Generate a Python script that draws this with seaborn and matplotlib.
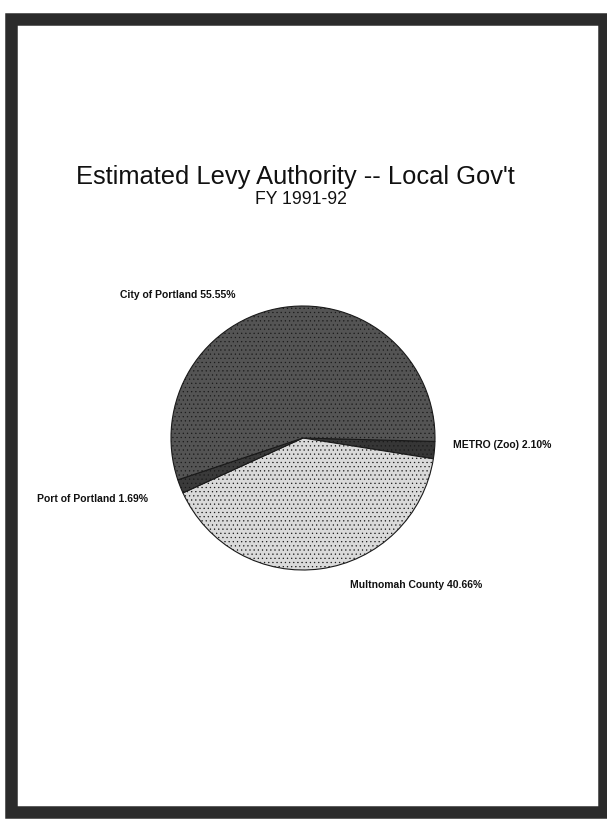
import matplotlib
matplotlib.use("Agg")
import matplotlib.pyplot as plt
import seaborn as sns
from matplotlib.patches import Rectangle

# ---- data ----
categories = ["METRO (Zoo)", "Multnomah County", "Port of Portland", "City of Portland"]
shares = [2.10, 40.66, 1.69, 55.55]
title = "Estimated Levy Authority -- Local Gov't"
subtitle = "FY 1991-92"

# ---- style ----
colors = ["#363636", "#dadada", "#3a3a3a", "#545454"]
label_pos = [(1.136, -0.053, "left"), (0.356, -1.114, "left"),
             (-1.174, -0.462, "right"), (-1.386, 1.083, "left")]

sns.set_theme(style="white")
plt.rcParams["font.family"] = ["Liberation Sans", "DejaVu Sans"]
plt.rcParams["hatch.color"] = "#8a8a8a"
plt.rcParams["hatch.linewidth"] = 0.4

W, H = 607, 819
fig = plt.figure(figsize=(W / 100, H / 100), dpi=100)
fig.patch.set_facecolor("white")

# scanned page frame
fig.patches.append(Rectangle((11 / W, 1 - 812 / H), (604 - 11) / W, (812 - 19) / H,
                             transform=fig.transFigure, fill=False,
                             edgecolor="#2b2b2b", linewidth=9, zorder=0))

cx, cy, r = 303, 438, 132
ax = fig.add_axes([(cx - r) / W, 1 - (cy + r) / H, 2 * r / W, 2 * r / H])
wedges, _ = ax.pie(shares, colors=colors, startangle=-1.5, counterclock=False,
                   wedgeprops=dict(edgecolor="#1a1a1a", linewidth=0.8))
for w in wedges:
    w.set_hatch("....")
    w.set_edgecolor("#1a1a1a")
ax.set_xlim(-1, 1)
ax.set_ylim(-1, 1)
ax.set_aspect("equal")
ax.axis("off")

for cat, val, (lx, ly, ha) in zip(categories, shares, label_pos):
    ax.text(lx, ly, f"{cat} {val:.2f}%", ha=ha, va="center", fontsize=7.5,
            fontweight="bold", color="#111111", clip_on=False)

fig.text(295 / W, 1 - 177 / H, title, ha="center", va="center", fontsize=18.4, color="#111111")
fig.text(301 / W, 1 - 200 / H, subtitle, ha="center", va="center", fontsize=12.7, color="#111111")

fig.savefig("out.png", dpi=100, facecolor="white")
